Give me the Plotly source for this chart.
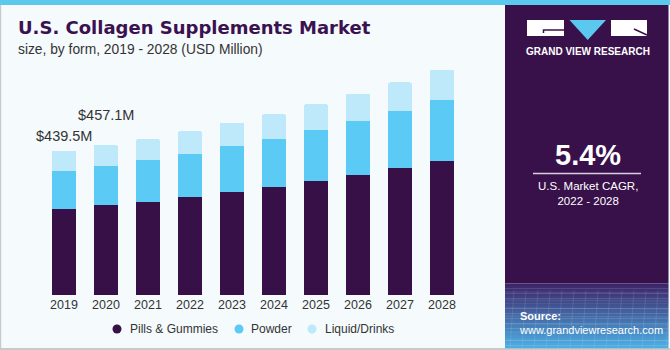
import plotly.graph_objects as go

# ---------------- data ----------------
years = ["2019", "2020", "2021", "2022", "2023", "2024", "2025", "2026", "2027", "2028"]
pills_gummies = [262.9, 273.2, 283.3, 298.5, 312.8, 328.1, 346.3, 365.5, 385.9, 408.2]
powder = [115.7, 120.6, 127.9, 130.1, 141.0, 148.0, 156.3, 165.4, 174.5, 186.7]
liquid_drinks = [60.9, 63.3, 63.1, 71.0, 71.0, 74.3, 79.2, 82.2, 87.4, 91.4]
series_names = ["Pills & Gummies", "Powder", "Liquid/Drinks"]
value_labels = ["$439.5M", "$457.1M"]
cagr_text = "5.4%"

# ---------------- styling ----------------
C_PILLS = "#371047"
C_POWDER = "#5BCBF5"
C_LIQUID = "#BEE9FA"
BG = "#F5FAFD"
PANEL = "#38114A"
TXT = "#333333"

W, H = 670, 350
ML, MR, MT, MB = 43, 207, 59, 55
PW, PH = W - ML - MR, H - MT - MB
YMAX = 718.9


def X(px):
    return (px - ML) / PW


def Y(py):
    return (H - MB - py) / PH


fig = go.Figure()
for name, vals, col in zip(series_names, [pills_gummies, powder, liquid_drinks],
                           [C_PILLS, C_POWDER, C_LIQUID]):
    fig.add_trace(go.Bar(x=years, y=vals, name=name, marker_color=col,
                         marker_line_width=0, showlegend=False))

shapes = []
# top blue strip
shapes.append(dict(type="rect", xref="paper", yref="paper", x0=X(0), x1=X(670), y0=Y(5), y1=Y(0),
                   fillcolor="#5BC8EE", line_width=0, layer="below"))
# borders
shapes.append(dict(type="rect", xref="paper", yref="paper", x0=X(0), x1=X(1.2), y0=Y(350), y1=Y(5),
                   fillcolor="#C9C9C9", line_width=0))
shapes.append(dict(type="rect", xref="paper", yref="paper", x0=X(0), x1=X(670), y0=Y(350), y1=Y(348),
                   fillcolor="#C9C9C9", line_width=0))
# right panel
shapes.append(dict(type="rect", xref="paper", yref="paper", x0=X(505), x1=X(668.5), y0=Y(283.5), y1=Y(5),
                   fillcolor=PANEL, line_width=0))
# gradient at panel bottom
c0 = (60, 38, 105)
c1 = (76, 172, 226)
n = 26
y_top, y_bot = 283.5, 348
for i in range(n):
    t = i / (n - 1)
    col = "rgb(%d,%d,%d)" % tuple(int(round(c0[k] + (c1[k] - c0[k]) * t)) for k in range(3))
    ya = y_top + (y_bot - y_top) * i / n
    yb = y_top + (y_bot - y_top) * (i + 1) / n
    shapes.append(dict(type="rect", xref="paper", yref="paper", x0=X(505), x1=X(668.5),
                       y0=Y(yb + 0.3), y1=Y(ya), fillcolor=col, line_width=0))
# faint grid pattern hints
for gx in range(510, 668, 12):
    shapes.append(dict(type="line", xref="paper", yref="paper", x0=X(gx), x1=X(gx + 4), y0=Y(348), y1=Y(290),
                       line=dict(color="rgba(255,255,255,0.10)", width=1)))
for gy in range(292, 348, 8):
    shapes.append(dict(type="line", xref="paper", yref="paper", x0=X(505), x1=X(668.5), y0=Y(gy), y1=Y(gy + 1),
                       line=dict(color="rgba(255,255,255,0.10)", width=1)))

# logo
shapes.append(dict(type="rect", xref="paper", yref="paper", x0=X(527), x1=X(564), y0=Y(36), y1=Y(20),
                   fillcolor="white", line_width=0))
shapes.append(dict(type="path", xref="paper", yref="paper",
                   path="M %f,%f L %f,%f L %f,%f" % (X(564), Y(30), X(543.5), Y(30), X(543.5), Y(33)),
                   line=dict(color=PANEL, width=1.5)))
shapes.append(dict(type="path", xref="paper", yref="paper",
                   path="M %f,%f L %f,%f L %f,%f Z" % (X(569.5), Y(20), X(606), Y(20), X(587.7), Y(40)),
                   fillcolor="#5BC8F0", line_width=0))
shapes.append(dict(type="rect", xref="paper", yref="paper", x0=X(611), x1=X(647), y0=Y(36), y1=Y(20),
                   fillcolor="white", line_width=0))
shapes.append(dict(type="line", xref="paper", yref="paper", x0=X(634), y0=Y(29), x1=X(647), y1=Y(35),
                   line=dict(color=PANEL, width=1.5)))
# separator under CAGR
shapes.append(dict(type="line", xref="paper", yref="paper", x0=X(533), x1=X(641), y0=Y(173.5), y1=Y(173.5),
                   line=dict(color="#D8D0E0", width=1.5)))

# manual legend markers
leg_marker_x = [117, 239, 312]
leg_text_x = [127.5, 248.5, 322.5]
leg_y = 329
for mx, col in zip(leg_marker_x, [C_PILLS, C_POWDER, C_LIQUID]):
    r = 4.5
    shapes.append(dict(type="circle", xref="paper", yref="paper", x0=X(mx - r), x1=X(mx + r),
                       y0=Y(leg_y + r), y1=Y(leg_y - r), fillcolor=col, line_width=0))

ann = []
ann.append(dict(xref="paper", yref="paper", x=X(16), y=Y(28), xanchor="left", yanchor="middle",
                text="<b>U.S. Collagen Supplements Market</b>", showarrow=False,
                font=dict(family="DejaVu Sans", size=18, color="#3B1150")))
ann.append(dict(xref="paper", yref="paper", x=X(16), y=Y(49.5), xanchor="left", yanchor="middle",
                text="size, by form, 2019 - 2028 (USD Million)", showarrow=False,
                font=dict(family="Liberation Sans", size=13.8, color=TXT)))
# value labels (category index positions)
for i, (lab, ys) in enumerate(zip(value_labels, [15, 29.5])):
    ann.append(dict(x=i, y=pills_gummies[i] + powder[i] + liquid_drinks[i], yshift=ys, yanchor="middle",
                    text=lab, showarrow=False, font=dict(family="Liberation Sans", size=14.5, color=TXT)))
# legend text
for tx, name in zip(leg_text_x, series_names):
    ann.append(dict(xref="paper", yref="paper", x=X(tx), y=Y(leg_y), xanchor="left", yanchor="middle",
                    text=name, showarrow=False, font=dict(family="Liberation Sans", size=12, color=TXT)))
# right panel text
ann.append(dict(xref="paper", yref="paper", x=X(587.5), y=Y(51), xanchor="center", yanchor="middle",
                text="<b>GRAND VIEW RESEARCH</b>", showarrow=False,
                font=dict(family="Liberation Sans", size=10, color="white")))
ann.append(dict(xref="paper", yref="paper", x=X(587.5), y=Y(155), xanchor="center", yanchor="middle",
                text="<b>%s</b>" % cagr_text, showarrow=False,
                font=dict(family="Liberation Sans", size=29, color="white")))
ann.append(dict(xref="paper", yref="paper", x=X(587.5), y=Y(193.5), xanchor="center", yanchor="middle",
                text="U.S. Market CAGR,<br>2022 - 2028", showarrow=False,
                font=dict(family="Liberation Sans", size=11.5, color="white")))
ann.append(dict(xref="paper", yref="paper", x=X(517), y=Y(322.5), xanchor="left", yanchor="middle",
                text="<b>Source:</b><br>www.grandviewresearch.com", showarrow=False, align="left",
                font=dict(family="Liberation Sans", size=11, color="white")))

fig.update_layout(
    width=W, height=H,
    margin=dict(l=ML, r=MR, t=MT, b=MB, pad=0),
    paper_bgcolor=BG, plot_bgcolor="rgba(0,0,0,0)",
    barmode="stack", bargap=0.43, barcornerradius=2,
    shapes=shapes, annotations=ann, showlegend=False,
    xaxis=dict(type="category", range=[-0.5, len(years) - 0.5], showgrid=False, zeroline=False,
               showline=False, ticks="",
               tickfont=dict(family="Liberation Sans", size=12.5, color=TXT), fixedrange=True),
    yaxis=dict(range=[0, YMAX], visible=False, fixedrange=True),
)

fig.write_html("out.html")
